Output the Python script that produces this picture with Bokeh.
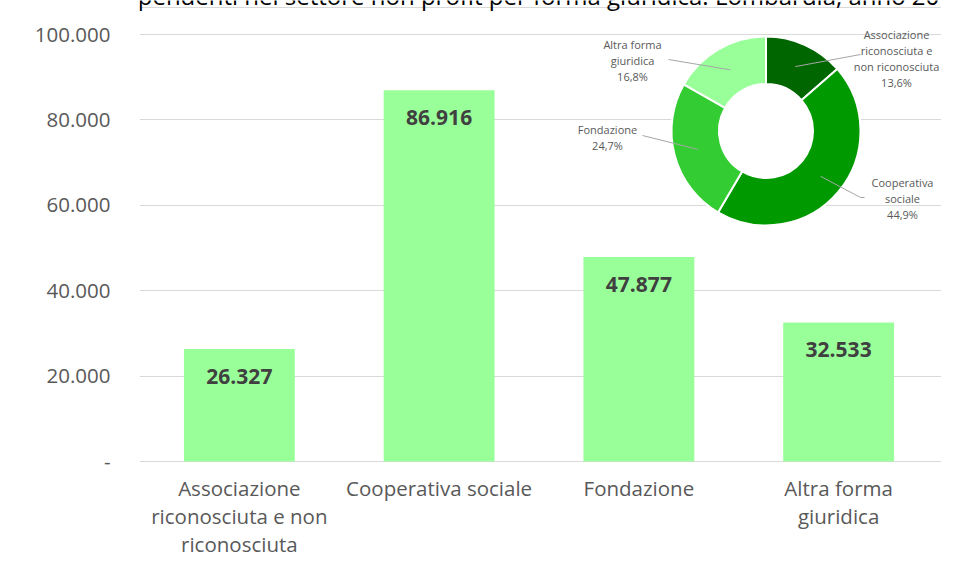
import math
from bokeh.plotting import figure
from bokeh.models import ColumnDataSource, FixedTicker, LabelSet, Label, Range1d, Span
from bokeh.core.properties import value
from bokeh.embed import file_html
from bokeh.resources import INLINE

# ---------------- data ----------------
categories = ["Associazione\nriconosciuta e non\nriconosciuta",
              "Cooperativa sociale", "Fondazione", "Altra forma\ngiuridica"]
dipendenti = [26327, 86916, 47877, 32533]
y_ticks = [0, 20000, 40000, 60000, 80000, 100000]
y_tick_labels = ["-", "20.000", "40.000", "60.000", "80.000", "100.000"]
donut_names = ["Associazione\nriconosciuta e\nnon riconosciuta",
               "Cooperativa\nsociale", "Fondazione", "Altra forma\ngiuridica"]
donut_colors = ["#006600", "#009900", "#33CC33", "#99FF99"]
title_text = ("Figura 1 – Dipendenti nel settore non profit per forma giuridica. "
              "Lombardia, anno 2015")

# ---------------- layout constants (canvas pixels) ----------------
W, H = 941, 557
PL, PR = 139, 938          # bar-plot area, left / right
PT, PB = 34, 461           # pixel of 100.000 and of 0
NCAT = len(categories)
YMAX = 100000
FONT = "Open Sans"
XPX = (PR - PL) / NCAT     # pixels per category
YPX = (PB - PT) / YMAX     # pixels per unit


def sx2x(sx):
    return (sx - PL) / XPX


def sy2y(sy):
    return (PB - sy) / YPX


p = figure(width=W, height=H,
           x_range=Range1d(sx2x(PL), sx2x(W)), y_range=Range1d(sy2y(H), sy2y(0)),
           output_backend="svg", toolbar_location=None,
           min_border_left=PL, min_border_right=0,
           min_border_top=0, min_border_bottom=0)
p.outline_line_color = None
p.background_fill_color = "white"
p.border_fill_color = "white"

# top edge of the chart area
p.add_layout(Span(location=sy2y(7), dimension="width", line_color="#D9D9D9",
                  line_width=1))

# bars
xs = [i + 0.5 for i in range(NCAT)]
src = ColumnDataSource(dict(x=xs, top=dipendenti,
                            lab=[f"{v:,}".replace(",", ".") for v in dipendenti]))
p.vbar(x="x", top="top", width=0.555, source=src, fill_color="#99FF99", line_color=None)

p.add_layout(LabelSet(x="x", y="top", text="lab", source=src, y_offset=-27,
                      text_align="center", text_baseline="middle",
                      text_font=value(FONT), text_font_size="21px",
                      text_font_style="bold", text_color="#404040"))

# y axis + grid
yt = FixedTicker(ticks=y_ticks)
p.yaxis.ticker = yt
p.ygrid.ticker = yt
p.yaxis.major_label_overrides = {t: l for t, l in zip(y_ticks, y_tick_labels)}
p.yaxis.axis_line_color = None
p.yaxis.major_tick_line_color = None
p.yaxis.minor_tick_line_color = None
p.yaxis.major_tick_out = 0
p.yaxis.major_tick_in = 0
p.yaxis.minor_tick_out = 0
p.yaxis.major_label_text_font = FONT
p.yaxis.major_label_text_font_size = "20.5px"
p.yaxis.major_label_text_color = "#595959"
p.yaxis.major_label_standoff = 29
p.xaxis.visible = False
p.xgrid.visible = False
p.ygrid.grid_line_color = "#D9D9D9"
p.ygrid.grid_line_width = 1

# category labels under the bars: one centred row per text line
CAT_FIRST, CAT_STEP = 34, 28.2     # first baseline below the zero line, line step
cx_, cy_, ct_, co_ = [], [], [], []
for x, cat in zip(xs, categories):
    for i, line in enumerate(cat.split("\n")):
        cx_.append(x)
        cy_.append(0)
        ct_.append(line)
        co_.append(-(CAT_FIRST + CAT_STEP * i))
csrc = ColumnDataSource(dict(x=cx_, y=cy_, t=ct_, off=co_))
p.add_layout(LabelSet(x="x", y="y", text="t", y_offset="off", source=csrc,
                      text_align="center", text_baseline="alphabetic",
                      text_font=value(FONT), text_font_size="20.5px",
                      text_color="#595959"))

# donut
CX, CY = 765.5, 130.5          # centre in canvas pixels
R_OUT, R_IN = 94.5, 47
total = sum(dipendenti)
shares = [v / total for v in dipendenti]
starts, ends, mids = [], [], []
c = 0.0
for s in shares:
    starts.append(math.pi / 2 - 2 * math.pi * c)
    mids.append(c + s / 2)
    c += s
    ends.append(math.pi / 2 - 2 * math.pi * c)

p.scatter(x=[sx2x(CX)], y=[sy2y(CY)], size=2 * R_IN, marker="circle",
          fill_color="white", line_color=None)
dsrc = ColumnDataSource(dict(x=[sx2x(CX)] * NCAT, y=[sy2y(CY)] * NCAT,
                             s=starts, e=ends, color=donut_colors))
p.annular_wedge(x="x", y="y", inner_radius=R_IN, outer_radius=R_OUT,
                inner_radius_units="screen", outer_radius_units="screen",
                start_angle="s", end_angle="e", direction="clock",
                fill_color="color", line_color="white", line_width=2, source=dsrc)

# leader lines: from middle of ring at mid-angle to label anchor
R_MID = (R_OUT + R_IN) / 2
leader_ends = [[(860, 54)], [(860, 197), (864, 197)], [(642, 135)], [(668, 59)]]
lx, ly = [], []
for m, pts in zip(mids, leader_ends):
    a = 2 * math.pi * m
    px0 = CX + R_MID * math.sin(a)
    py0 = CY - R_MID * math.cos(a)
    lx.append([sx2x(px0)] + [sx2x(q[0]) for q in pts])
    ly.append([sy2y(py0)] + [sy2y(q[1]) for q in pts])
p.multi_line(xs=lx, ys=ly, line_color="#A6A6A6", line_width=1)

# donut data labels: centred rows (name lines + percentage)
label_pos = [(896, 34), (902, 182), (607, 129), (632, 44)]   # first-row centres
DL_STEP = 16
dx_, dy_, dt_ = [], [], []
for (px, py), n, s in zip(label_pos, donut_names, shares):
    rows = n.split("\n") + [f"{s * 100:.1f}".replace(".", ",") + "%"]
    for i, row in enumerate(rows):
        dx_.append(sx2x(px))
        dy_.append(sy2y(py + DL_STEP * i))
        dt_.append(row)
lsrc = ColumnDataSource(dict(x=dx_, y=dy_, t=dt_))
p.add_layout(LabelSet(x="x", y="y", text="t", source=lsrc,
                      text_align="center", text_baseline="middle",
                      text_font=value(FONT), text_font_size="11px",
                      text_color="#595959"))

# title (cut at the top edge, as in the source image)
p.add_layout(Label(x=sx2x(0), y=sy2y(-5), text=title_text,
                   text_font=FONT, text_font_size="24px", text_color="#000000",
                   text_align="left", text_baseline="alphabetic"))

open("out.html", "w").write(file_html(p, INLINE))
